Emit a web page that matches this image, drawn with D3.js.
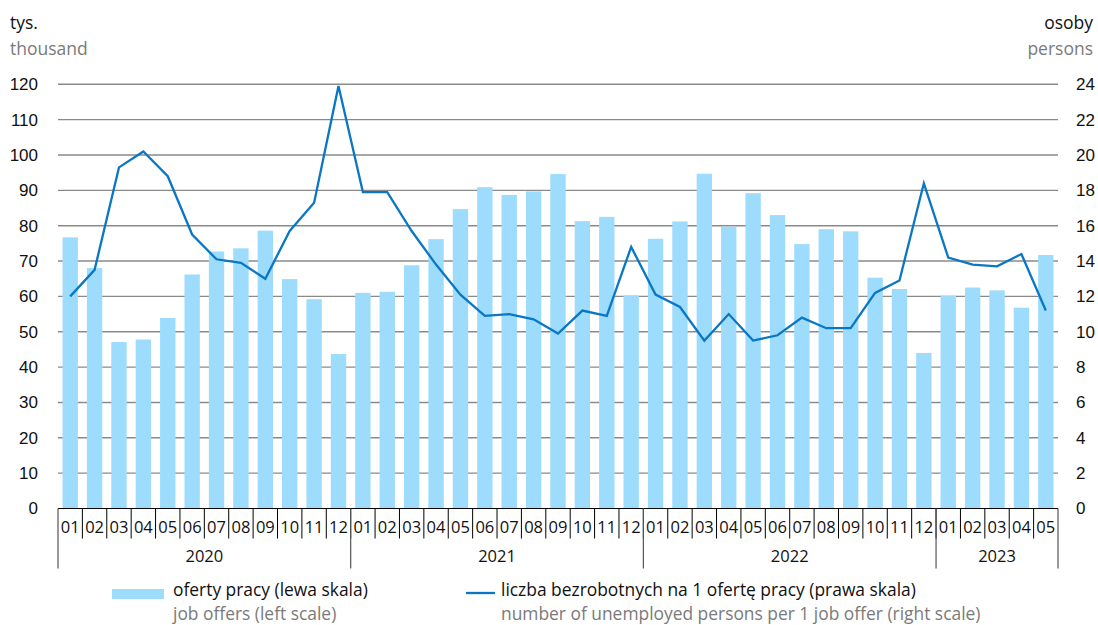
<!DOCTYPE html>
<html>
<head>
<meta charset="utf-8">
<script src="https://cdn.jsdelivr.net/npm/d3@7"></script>
<style>
  body { margin: 0; background: #fff; }
  svg { font-family: "Open Sans", "Noto Sans", sans-serif; }
</style>
</head>
<body>
<svg id="chart" width="1098" height="625"></svg>
<script>
// data
var years = ["2020", "2021", "2022", "2023"];
var monthsPerYear = [12, 12, 12, 5];
var months = [];
years.forEach(function(y, i) {
    for (var m = 1; m <= monthsPerYear[i]; m++) months.push(y + "-" + (m < 10 ? "0" + m : "" + m));
});

// job offers, thousand (left scale)
var offers = [
    76.7, 68.0, 47.1, 47.8, 53.9, 66.2, 72.7, 73.6, 78.6, 64.9, 59.2, 43.7,
    61.0, 61.3, 68.8, 76.2, 84.7, 90.9, 88.7, 89.7, 94.6, 81.3, 82.5, 60.3,
    76.3, 81.2, 94.7, 79.7, 89.2, 83.0, 74.8, 79.0, 78.4, 65.3, 62.1, 44.0,
    60.2, 62.5, 61.7, 56.8, 71.7
];
// unemployed persons per 1 job offer (right scale)
var perOffer = [
    12.0, 13.5, 19.3, 20.2, 18.8, 15.5, 14.1, 13.9, 13.0, 15.7, 17.3, 23.9,
    17.9, 17.9, 15.7, 13.8, 12.1, 10.9, 11.0, 10.7, 9.9, 11.2, 10.9, 14.8,
    12.1, 11.4, 9.5, 11.0, 9.5, 9.8, 10.8, 10.2, 10.2, 12.2, 12.9, 18.4,
    14.2, 13.8, 13.7, 14.4, 11.2
];
var leftTicks = d3.range(0, 121, 10);
var rightTicks = d3.range(0, 25, 2);

var barColor = "#9ddcfd";
var lineColor = "#0a77c4";
var gridColor = "#8a8a8a";

var svg = d3.select("#chart");
var margin = {left: 58, right: 40, top: 84.3, bottom: 116.5};
var W = 1098, H = 625;
var x0 = margin.left, x1 = W - margin.right;
var yTop = margin.top, yBot = H - margin.bottom;

var x = d3.scaleBand().domain(months).range([x0, x1]).paddingInner(0.37).paddingOuter(0.185);
var xb = d3.scaleBand().domain(months).range([x0, x1]);
var yL = d3.scaleLinear().domain([0, 120]).range([yBot, yTop]);
var yR = d3.scaleLinear().domain([0, 24]).range([yBot, yTop]);

// grid
var grid = svg.append("g");
grid.selectAll("line").data(leftTicks.slice(1)).enter().append("line")
    .attr("x1", x0).attr("x2", x1)
    .attr("y1", function(d) { return yL(d); })
    .attr("y2", function(d) { return yL(d); })
    .attr("stroke", gridColor).attr("stroke-width", 1.4);

// bars
svg.append("g").selectAll("rect").data(offers).enter().append("rect")
    .attr("x", function(d, i) { return x(months[i]); })
    .attr("width", x.bandwidth())
    .attr("y", function(d) { return yL(d); })
    .attr("height", function(d) { return yBot - yL(d); })
    .attr("fill", barColor);

// line
var line = d3.line()
    .x(function(d, i) { return xb(months[i]) + xb.bandwidth() / 2; })
    .y(function(d) { return yR(d); });
svg.append("path").datum(perOffer)
    .attr("d", line)
    .attr("fill", "none")
    .attr("stroke", lineColor)
    .attr("stroke-width", 2.3)
    .attr("stroke-linejoin", "miter");

// left axis
var axL = svg.append("g").attr("transform", "translate(" + (x0 - 20) + ",0)")
    .call(d3.axisLeft(yL).tickValues(leftTicks).tickSize(0).tickPadding(0));
axL.select(".domain").remove();
axL.selectAll("text").attr("font-size", 17).attr("fill", "#111").attr("font-family", null);

// right axis
var axR = svg.append("g").attr("transform", "translate(" + (x1 + 18) + ",0)")
    .call(d3.axisRight(yR).tickValues(rightTicks).tickSize(0).tickPadding(0));
axR.select(".domain").remove();
axR.selectAll("text").attr("font-size", 17).attr("fill", "#111").attr("font-family", null);

// bottom axis: baseline, month dividers, year dividers
var xg = svg.append("g");
xg.append("line").attr("x1", x0).attr("x2", x1).attr("y1", yBot).attr("y2", yBot)
    .attr("stroke", "#000").attr("stroke-width", 1.2);
xg.selectAll(".mtick").data(months.slice(1)).enter().append("line")
    .attr("x1", function(d) { return xb(d); })
    .attr("x2", function(d) { return xb(d); })
    .attr("y1", yBot).attr("y2", yBot + 30)
    .attr("stroke", "#000").attr("stroke-width", 1);
xg.selectAll(".mlab").data(months).enter().append("text")
    .attr("x", function(d) { return xb(d) + xb.bandwidth() / 2; })
    .attr("y", yBot + 24)
    .attr("text-anchor", "middle")
    .attr("font-size", 16.5).attr("fill", "#111")
    .text(function(d) { return d.slice(5); });

var yearStart = [], k = 0;
years.forEach(function(y, i) { yearStart.push(k); k += monthsPerYear[i]; });
var yearEdges = yearStart.map(function(s) { return xb(months[s]); }).concat([x1]);
xg.selectAll(".ytick").data(yearEdges).enter().append("line")
    .attr("x1", function(d) { return d; }).attr("x2", function(d) { return d; })
    .attr("y1", yBot).attr("y2", yBot + 60)
    .attr("stroke", "#555").attr("stroke-width", 1.2);
xg.selectAll(".ylab").data(years).enter().append("text")
    .attr("x", function(d, i) { return (yearEdges[i] + yearEdges[i + 1]) / 2; })
    .attr("y", yBot + 53)
    .attr("text-anchor", "middle")
    .attr("font-size", 16.5).attr("fill", "#111")
    .text(function(d) { return d; });

// unit labels
svg.append("text").attr("x", 10).attr("y", 29).attr("font-size", 17.5).attr("fill", "#111").text("tys.");
svg.append("text").attr("x", 10).attr("y", 55).attr("font-size", 17.5).attr("fill", "#7a7a7a").text("thousand");
svg.append("text").attr("x", 1093).attr("y", 29).attr("text-anchor", "end").attr("font-size", 17.5).attr("fill", "#111").text("osoby");
svg.append("text").attr("x", 1093).attr("y", 55).attr("text-anchor", "end").attr("font-size", 17.5).attr("fill", "#7a7a7a").text("persons");

// legend
var lg = svg.append("g");
lg.append("rect").attr("x", 112).attr("y", 589).attr("width", 52).attr("height", 10).attr("fill", barColor);
lg.append("text").attr("x", 173).attr("y", 596).attr("font-size", 17.4).attr("fill", "#111").text("oferty pracy (lewa skala)");
lg.append("text").attr("x", 173).attr("y", 620).attr("font-size", 17.4).attr("fill", "#7a7a7a").text("job offers (left scale)");
lg.append("line").attr("x1", 466).attr("x2", 495).attr("y1", 593).attr("y2", 593).attr("stroke", lineColor).attr("stroke-width", 2.3);
lg.append("text").attr("x", 501).attr("y", 596).attr("font-size", 17.4).attr("fill", "#111").text("liczba bezrobotnych na 1 ofertę pracy (prawa skala)");
lg.append("text").attr("x", 501).attr("y", 620).attr("font-size", 17.4).attr("fill", "#7a7a7a").text("number of unemployed persons per 1 job offer (right scale)");
</script>
</body>
</html>
